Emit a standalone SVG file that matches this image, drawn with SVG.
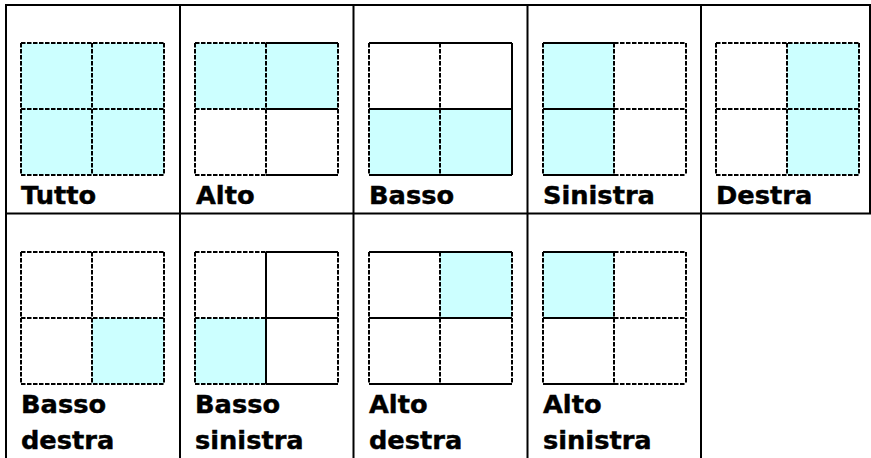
<svg xmlns="http://www.w3.org/2000/svg" width="871" height="458" viewBox="0 0 871 458">
<style>
.tb{fill:none;stroke:#000;stroke-width:2}
.s{fill:none;stroke:#000;stroke-width:2}
.d{fill:none;stroke:#000;stroke-width:2;stroke-dasharray:4.5 1.5}
.f{fill:#CCFFFF}
.lb{font-family:"DejaVu Sans",Verdana,sans-serif;font-weight:bold;font-size:24px;fill:#000;stroke:#000;stroke-width:0.4}
</style>
<rect width="871" height="458" fill="#fff"/>
<g id="table">
<path class="tb" d="M5 5H871 M5 213.5H871 M6 4V458 M180 5V458 M353.5 5V458 M527.5 5V458 M701 5V458 M870 4V213.5"/>
</g>
<g id="tutto">
<rect class="f" x="21" y="43" width="143" height="132"/>
<path class="d" d="M21 43H164 M21 109H164 M21 175H164 M21 43V175 M92 43V175 M164 43V175"/>
<text class="lb" transform="translate(21 204) scale(1.07 1)">Tutto</text>
</g>
<g id="alto">
<rect class="f" x="195" y="43" width="143" height="66"/>
<path class="s" d="M266 43H338 M266 109H338 M266 175H338"/>
<path class="d" d="M195 43H266 M195 109H266 M195 175H266 M195 43V175 M266 43V175 M338 43V175"/>
<text class="lb" transform="translate(196 204) scale(1.07 1)">Alto</text>
</g>
<g id="basso">
<rect class="f" x="369" y="109" width="143" height="66"/>
<path class="s" d="M369 43H512 M369 109H512 M369 175H512 M512 43V175"/>
<path class="d" d="M369 43V175 M440 43V175"/>
<text class="lb" transform="translate(369 204) scale(1.07 1)">Basso</text>
</g>
<g id="sinistra">
<rect class="f" x="543" y="43" width="71" height="132"/>
<path class="s" d="M543 43H614 M543 109H614 M543 175H614"/>
<path class="d" d="M614 43H686 M614 109H686 M614 175H686 M543 43V175 M614 43V175 M686 43V175"/>
<text class="lb" transform="translate(543 204) scale(1.07 1)">Sinistra</text>
</g>
<g id="destra">
<rect class="f" x="787" y="43" width="72" height="132"/>
<path class="d" d="M716 43H859 M716 109H859 M716 175H859 M716 43V175 M787 43V175 M859 43V175"/>
<text class="lb" transform="translate(716 204) scale(1.07 1)">Destra</text>
</g>
<g id="basso-destra">
<rect class="f" x="92" y="318" width="72" height="66"/>
<path class="d" d="M21 252H164 M21 318H164 M21 384H164 M21 252V384 M92 252V384 M164 252V384"/>
<text class="lb" transform="translate(21 413) scale(1.07 1)">Basso</text>
<text class="lb" transform="translate(21 449) scale(1.07 1)">destra</text>
</g>
<g id="basso-sinistra">
<rect class="f" x="195" y="318" width="71" height="66"/>
<path class="s" d="M266 252H338 M266 318H338 M266 384H338 M266 252V384"/>
<path class="d" d="M195 252H266 M195 318H266 M195 384H266 M195 252V384 M338 252V384"/>
<text class="lb" transform="translate(195 413) scale(1.07 1)">Basso</text>
<text class="lb" transform="translate(195 449) scale(1.07 1)">sinistra</text>
</g>
<g id="alto-destra">
<rect class="f" x="440" y="252" width="72" height="66"/>
<path class="s" d="M369 252H512 M369 318H512 M369 384H512"/>
<path class="d" d="M369 252V384 M440 252V384 M512 252V384"/>
<text class="lb" transform="translate(369 413) scale(1.07 1)">Alto</text>
<text class="lb" transform="translate(369 449) scale(1.07 1)">destra</text>
</g>
<g id="alto-sinistra">
<rect class="f" x="543" y="252" width="71" height="66"/>
<path class="s" d="M543 252H614 M543 318H614 M543 384H614"/>
<path class="d" d="M614 252H686 M614 318H686 M614 384H686 M543 252V384 M614 252V384 M686 252V384"/>
<text class="lb" transform="translate(543 413) scale(1.07 1)">Alto</text>
<text class="lb" transform="translate(543 449) scale(1.07 1)">sinistra</text>
</g>
</svg>
